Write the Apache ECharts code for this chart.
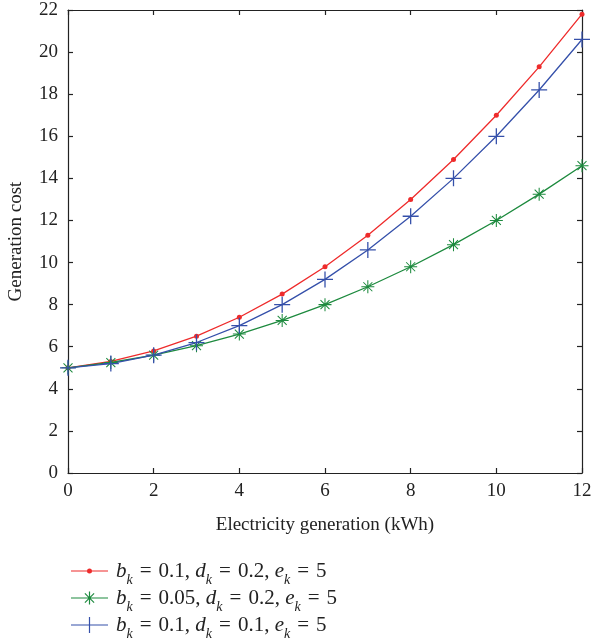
<!DOCTYPE html>
<html>
<head>
<meta charset="utf-8">
<script src="https://cdn.jsdelivr.net/npm/echarts@6/dist/echarts.min.js"></script>
<style>html,body{margin:0;padding:0;background:#fff}#c{width:593px;height:640px}</style>
</head>
<body>
<div id="c"></div>
<script>
var xValues = [0,1,2,3,4,5,6,7,8,9,10,11,12];
var seriesRed = [5, 5.3, 5.8, 6.5, 7.4, 8.5, 9.8, 11.3, 13.0, 14.9, 17.0, 19.3, 21.8];
var seriesGreen = [5, 5.25, 5.6, 6.05, 6.6, 7.25, 8.0, 8.85, 9.8, 10.85, 12.0, 13.25, 14.6];
var seriesBlue = [5, 5.2, 5.6, 6.2, 7.0, 8.0, 9.2, 10.6, 12.2, 14.0, 16.0, 18.2, 20.6];
var seriesNames = ['red', 'green', 'blue'];
var EQ = '\u2004=\u2004';
var legendTexts = {
  red: '{i|b}{s|k}{n|' + EQ + '0.1, }{i|d}{s|k}{n|' + EQ + '0.2, }{i|e}{s|k}{n|' + EQ + '5}',
  green: '{i|b}{s|k}{n|' + EQ + '0.05, }{i|d}{s|k}{n|' + EQ + '0.2, }{i|e}{s|k}{n|' + EQ + '5}',
  blue: '{i|b}{s|k}{n|' + EQ + '0.1, }{i|d}{s|k}{n|' + EQ + '0.1, }{i|e}{s|k}{n|' + EQ + '5}'
};
var FONT = '"Liberation Serif", "DejaVu Serif", serif';
function pairs(arr){ return xValues.map(function(x,i){ return [x, arr[i]]; }); }
var plusPath = 'path://M9.2,0H10.8V9.2H20V10.8H10.8V20H9.2V10.8H0V9.2H9.2Z';
var starPath = 'path://M0,9.2H20V10.8H0Z M9.2,0H10.8V20H9.2Z M3.64,2.51L17.49,16.36L16.36,17.49L2.51,3.64Z M16.36,2.51L17.49,3.64L3.64,17.49L2.51,16.36Z';
// legend icons: box 37 x 16, line through middle + marker in centre
var CORNERS = 'M0,0L0,0M37,16L37,16';
var LINE = 'M0,7.4H37V8.6H0Z';
var legendIcons = {
  red: 'path://' + CORNERS + LINE + 'M21,8A2.5,2.5 0 1 1 16,8A2.5,2.5 0 1 1 21,8Z',
  green: 'path://' + CORNERS + LINE +
    'M12,7.4H25V8.6H12Z M17.9,1.5H19.1V14.5H17.9Z M14.3,2.9L23.5,12.3L22.7,13.1L13.5,3.7Z M22.7,2.9L23.5,3.7L14.3,13.1L13.5,12.3Z',
  blue: 'path://' + CORNERS + LINE + 'M17.9,0H19.1V7.4H37V8.6H19.1V16H17.9V8.6H0V7.4H17.9Z'
};
var colors = {red:'#ee2b2b', green:'#1d8a3e', blue:'#3550aa'};
var chart = echarts.init(document.getElementById('c'), null, {renderer:'canvas'});
var axisCommon = {
  axisLine:{show:true, onZero:false, lineStyle:{color:'#222', width:1.2}},
  axisTick:{show:true, inside:true, length:5, lineStyle:{color:'#222', width:1.2}},
  splitLine:{show:false}
};
function mk(name, data, symbol, size){
  return {
    name:name, type:'line', data:pairs(data), symbol:symbol, symbolSize:size,
    showAllSymbol:true,
    lineStyle:{color:colors[name], width:1.3},
    itemStyle:{color:colors[name]},
    emphasis:{disabled:true}, animation:false
  };
}
chart.setOption({
  animation:false,
  grid:{left:68, right:11, top:10, bottom:167, containLabel:false, outerBoundsMode:'none'},
  xAxis:[
    Object.assign({type:'value', min:0, max:12, interval:2, position:'bottom',
      name:'Electricity generation (kWh)', nameLocation:'middle', nameGap:43,
      nameTextStyle:{fontFamily:FONT, fontSize:19, color:'#222'},
      axisLabel:{fontFamily:FONT, fontSize:19, color:'#222', margin:9}}, axisCommon),
    Object.assign({type:'value', min:0, max:12, interval:2, position:'top',
      axisLabel:{show:false}}, axisCommon)
  ],
  yAxis:[
    Object.assign({type:'value', min:0, max:22, interval:2, position:'left',
      name:'Generation cost', nameLocation:'middle', nameGap:42,
      nameTextStyle:{fontFamily:FONT, fontSize:19, color:'#222'},
      axisLabel:{fontFamily:FONT, fontSize:19, color:'#222', margin:10}}, axisCommon),
    Object.assign({type:'value', min:0, max:22, interval:2, position:'right',
      axisLabel:{show:false}}, axisCommon)
  ],
  legend:{
    orient:'vertical', left:66, top:556, height:100, itemWidth:37, itemHeight:16, itemGap:1,
    data:seriesNames.map(function(n){ return {name:n, icon:legendIcons[n], itemStyle:{color:colors[n]}}; }),
    formatter:function(n){ return legendTexts[n]; },
    textStyle:{
      fontFamily:FONT, fontSize:21, color:'#222', padding:[0,0,0,3],
      rich:{
        i:{fontFamily:FONT, fontSize:21, fontStyle:'italic', color:'#222', verticalAlign:'bottom', lineHeight:22},
        n:{fontFamily:FONT, fontSize:21, color:'#222', verticalAlign:'bottom', lineHeight:22},
        s:{fontFamily:FONT, fontSize:14, fontStyle:'italic', color:'#222', verticalAlign:'bottom', lineHeight:22, padding:[0,0,-5,0]}
      }
    }
  },
  series:[
    mk('red', seriesRed, 'circle', 5),
    mk('green', seriesGreen, starPath, 13),
    mk('blue', seriesBlue, plusPath, 16)
  ]
});
</script>
</body>
</html>
